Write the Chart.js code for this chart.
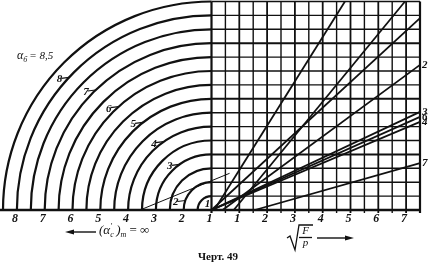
<!DOCTYPE html>
<html>
<head>
<meta charset="utf-8">
<script src="https://cdn.jsdelivr.net/npm/chart.js@4/dist/chart.umd.min.js"></script>
<style>
  body { margin: 0; background: #fff; }
  canvas { display: block; }
</style>
</head>
<body>
<canvas id="chart" width="429" height="265"></canvas>
<script>
// bottom axis labels (left half counts outward from the origin)
const tickValues = [-7, -6, -5, -4, -3, -2, -1, 0, 1, 2, 3, 4, 5, 6, 7];
const leftTickLabels = ["8", "7", "6", "5", "4", "3", "2", "1"];
const rightTickLabels = ["1", "2", "3", "4", "5", "6", "7"];

// quarter circles, radius in axis units
const circleRadii = [0.5, 1, 1.5, 2, 2.5, 3, 3.5, 4, 4.5, 5, 5.5, 6, 6.5, 7, 7.5];
const circleLabels = ["1", "2", "3", "4", "5", "6", "7", "8"];
const circleLabelRadii = [0.25, 1, 2, 3, 4, 5, 6, 7];
const circleLabelAngles = [125, 160, 125, 125, 128, 132, 134, 137];

// straight lines on the right grid
const rayLabels = ["", "", "", "2", "3", "6", "4", "7"];
const rayStartX = [0.1, 0.8, 0, 0.4, 0, 0, 0, 1.56];
const rayEndX = [4.8, 6.96, 7.5, 7.5, 7.5, 7.5, 7.5, 7.5];
const rayEndY = [7.5, 7.5, 6.9, 5.22, 3.53, 3.35, 3.17, 1.69];

// thin helper line on the left
const helperX = [-2.57, 0.65];
const helperY = [0, 1.32];

const ink = "#111";

const datasets = rayLabels.map(function (lab, i) {
    return {
        label: lab,
        data: [{ x: rayStartX[i], y: 0 }, { x: rayEndX[i], y: rayEndY[i] }],
        borderColor: ink,
        borderWidth: 1.8,
        pointRadius: 0,
        clip: false
    };
});
datasets.push({
    label: "helper",
    data: helperX.map(function (x, i) { return { x: x, y: helperY[i] }; }),
    borderColor: ink,
    borderWidth: 1,
    pointRadius: 0
});

const drawingPlugin = {
    id: "drawing",
    beforeDatasetsDraw(chart) {
        const c = chart.ctx;
        const xs = chart.scales.x, ys = chart.scales.y;
        const ox = xs.getPixelForValue(0), oy = ys.getPixelForValue(0);
        c.save();
        c.strokeStyle = ink;
        c.lineCap = "butt";

        // grid on the right half
        for (let v = 0; v <= 7.5; v += 0.5) {
            const px = xs.getPixelForValue(v);
            c.lineWidth = (v === 0 || v === 7.5) ? 2.2 : (v % 1 === 0 ? 1.8 : 1.4);
            c.beginPath();
            c.moveTo(px, ys.getPixelForValue(7.5));
            c.lineTo(px, oy + 3);
            c.stroke();
        }
        for (let v = 0.5; v <= 7.5; v += 0.5) {
            const py = ys.getPixelForValue(v);
            c.lineWidth = v % 2 === 0 ? 2 : 1.4;
            c.beginPath();
            c.moveTo(ox, py);
            c.lineTo(xs.getPixelForValue(7.5), py);
            c.stroke();
        }

        // baseline
        c.lineWidth = 2.5;
        c.beginPath();
        c.moveTo(0, oy);
        c.lineTo(xs.getPixelForValue(7.5), oy);
        c.stroke();

        // quarter circles
        c.lineWidth = 2.2;
        circleRadii.forEach(function (r) {
            const rx = ox - xs.getPixelForValue(-r);
            const ry = oy - ys.getPixelForValue(r);
            c.beginPath();
            c.ellipse(ox, oy, rx, ry, 0, Math.PI, 1.5 * Math.PI);
            c.stroke();
        });

        // circle labels with short leaders
        c.font = "italic bold 11px 'Liberation Serif'";
        c.fillStyle = ink;
        c.textBaseline = "middle";
        circleLabels.forEach(function (t, i) {
            const a = circleLabelAngles[i] * Math.PI / 180;
            const r = circleLabelRadii[i];
            const px = xs.getPixelForValue(r * Math.cos(a));
            const py = ys.getPixelForValue(r * Math.sin(a));
            if (r < 0.5) {
                c.textAlign = "center";
                c.fillText(t, px, py);
                return;
            }
            c.lineWidth = 1.2;
            c.beginPath();
            c.moveTo(px - 8, py + 1);
            c.lineTo(px, py);
            c.stroke();
            c.textAlign = "right";
            c.fillText(t, px - 7, py + 2);
        });
        c.restore();
    },
    afterDatasetsDraw(chart) {
        const c = chart.ctx;
        const xs = chart.scales.x, ys = chart.scales.y;
        c.save();
        c.fillStyle = ink;
        c.strokeStyle = ink;
        c.textBaseline = "middle";
        c.textAlign = "left";
        c.font = "italic bold 11px 'Liberation Serif'";
        rayLabels.forEach(function (t, i) {
            if (!t) return;
            const px = xs.getPixelForValue(rayEndX[i]);
            const py = ys.getPixelForValue(rayEndY[i]);
            c.fillText(t, px + 2, py);
        });

        // alpha label of the outer circle
        c.font = "italic 12px 'Liberation Serif'";
        let x = 17;
        c.fillText("\u03b1", x, 56);
        x += c.measureText("\u03b1").width;
        c.font = "italic 8px 'Liberation Serif'";
        c.fillText("\u0431", x, 60);
        x += c.measureText("\u0431").width + 2;
        c.font = "italic 11px 'Liberation Serif'";
        c.fillText("= 8,5", x, 56);

        // left arrow and (α'c)т = ∞
        c.lineWidth = 1.4;
        c.beginPath();
        c.moveTo(70, 232);
        c.lineTo(96, 232);
        c.stroke();
        c.beginPath();
        c.moveTo(65, 232);
        c.lineTo(74, 229.5);
        c.lineTo(74, 234.5);
        c.closePath();
        c.fill();
        x = 99;
        c.font = "italic 13px 'Liberation Serif'";
        c.fillText("(\u03b1", x, 231);
        x += c.measureText("(\u03b1").width;
        c.font = "italic 8px 'Liberation Serif'";
        c.fillText("\u2032", x, 227);
        c.fillText("c", x, 235);
        x += 6;
        c.font = "italic 13px 'Liberation Serif'";
        c.fillText(")", x, 231);
        x += c.measureText(")").width;
        c.font = "italic 8px 'Liberation Serif'";
        c.fillText("\u0442", x, 235);
        x += 9;
        c.font = "13px 'Liberation Serif'";
        c.fillText("= \u221e", x, 231);

        // sqrt(F/p) with arrow
        c.lineWidth = 1.3;
        c.beginPath();
        c.moveTo(287, 238);
        c.lineTo(290, 236);
        c.lineTo(295, 250);
        c.lineTo(299, 225);
        c.lineTo(313, 225);
        c.stroke();
        c.beginPath();
        c.moveTo(299, 237.5);
        c.lineTo(312, 237.5);
        c.stroke();
        c.font = "italic 11px 'Liberation Serif'";
        c.textAlign = "center";
        c.fillText("F", 305.5, 231.5);
        c.fillText("p", 305.5, 243.5);
        c.lineWidth = 1.4;
        c.beginPath();
        c.moveTo(317, 238);
        c.lineTo(346, 238);
        c.stroke();
        c.beginPath();
        c.moveTo(354, 238);
        c.lineTo(345, 235.5);
        c.lineTo(345, 240.5);
        c.closePath();
        c.fill();

        // caption
        c.font = "bold 11px 'Liberation Serif'";
        c.textAlign = "left";
        c.fillText("\u0427\u0435\u0440\u0442. 49", 198, 257);
        c.restore();
    }
};

new Chart(document.getElementById("chart"), {
    type: "line",
    data: { datasets: datasets },
    options: {
        responsive: false,
        devicePixelRatio: 1,
        animation: false,
        layout: { padding: { left: 3, right: 9, top: 1.5, bottom: 0 } },
        plugins: { legend: { display: false }, tooltip: { enabled: false } },
        scales: {
            x: {
                type: "linear",
                min: -7.5,
                max: 7.5,
                grid: { display: false, drawTicks: false, tickLength: 0 },
                border: { display: false },
                afterBuildTicks: function (scale) {
                    scale.ticks = tickValues.map(function (v) { return { value: v }; });
                },
                afterFit: function (scale) { scale.height = 55; },
                ticks: {
                    autoSkip: false,
                    maxRotation: 0,
                    padding: 2,
                    labelOffset: -2,
                    color: ink,
                    font: { family: "'Liberation Serif'", size: 12, style: "italic", weight: "bold" },
                    callback: function (v) {
                        return v <= 0 ? leftTickLabels[v + 7] : rightTickLabels[v - 1];
                    }
                }
            },
            y: {
                type: "linear",
                display: false,
                min: 0,
                max: 7.5
            }
        }
    },
    plugins: [drawingPlugin]
});
</script>
</body>
</html>
